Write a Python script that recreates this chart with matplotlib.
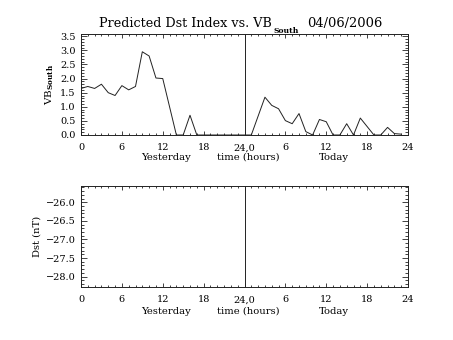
import matplotlib
matplotlib.use("Agg")
import matplotlib.pyplot as plt
from matplotlib.ticker import FixedLocator, MultipleLocator

# hourly VB south, yesterday (0-23 h) and today (0-23 h)
hours = list(range(24))
vb_yesterday = [1.65, 1.72, 1.65, 1.80, 1.50, 1.40, 1.75, 1.60, 1.72, 2.95, 2.80, 2.02,
                2.00, 1.00, 0.00, 0.00, 0.70, 0.00, 0.00, 0.00, 0.00, 0.00, 0.00, 0.00]
vb_today = [0.00, 0.00, 0.67, 1.34, 1.05, 0.93, 0.51, 0.40, 0.76, 0.12, 0.00, 0.55,
            0.47, 0.00, 0.00, 0.40, 0.00, 0.60, 0.30, 0.00, 0.00, 0.27, 0.05, 0.03]

xticks = [0, 6, 12, 18, 24, 30, 36, 42, 48]
xticklabels = ["0", "6", "12", "18", "24,0", "6", "12", "18", "24"]
vb_ticks = [0.0, 0.5, 1.0, 1.5, 2.0, 2.5, 3.0, 3.5]
dst_ticks = [-28.0, -27.5, -27.0, -26.5, -26.0]

W, H = 453, 340
FONT = "DejaVu Serif"
INK = "#222222"


def fx(x):
    return x / W


def fy(y):
    return 1 - y / H


plt.rcParams["font.family"] = FONT
plt.rcParams["mathtext.fontset"] = "dejavuserif"
fig = plt.figure(figsize=(W / 100, H / 100), dpi=100)

ax1 = fig.add_axes([fx(81), fy(135), 327 / W, 101 / H])
ax2 = fig.add_axes([fx(81), fy(287), 327 / W, 101 / H])

x_all = hours + [24 + h for h in hours]
ax1.plot(x_all, vb_yesterday + vb_today, color=INK, lw=0.7)
ax1.set_ylim(0, 3.58)
ax2.set_ylim(-28.28, -25.56)

for ax, ticks in ((ax1, vb_ticks), (ax2, dst_ticks)):
    ax.set_xlim(0, 48)
    ax.axvline(24, color=INK, lw=0.7)
    ax.xaxis.set_major_locator(FixedLocator(xticks))
    ax.set_xticklabels(xticklabels)
    ax.xaxis.set_minor_locator(MultipleLocator(1))
    ax.yaxis.set_major_locator(FixedLocator(ticks))
    ax.set_yticklabels(["%.1f" % t if t >= 0 else "\u2212%.1f" % -t for t in ticks])
    ax.yaxis.set_minor_locator(MultipleLocator(0.1))
    ax.tick_params(which="both", direction="in", top=True, right=True,
                   colors=INK, labelsize=7, labelcolor="black", width=0.6)
    ax.tick_params(axis="y", which="major", length=4, pad=4)
    ax.tick_params(axis="y", which="minor", length=2)
    ax.tick_params(axis="x", which="major", length=3, pad=6)
    ax.tick_params(axis="x", which="minor", length=1.5)
    for s in ax.spines.values():
        s.set_color(INK)
        s.set_linewidth(0.7)

# labels under each time axis
for y in (157, 311):
    fig.text(fx(166), fy(y), "Yesterday", ha="center", va="center", fontsize=7.2)
    fig.text(fx(248), fy(y), "time (hours)", ha="center", va="center", fontsize=7.2)
    fig.text(fx(334), fy(y), "Today", ha="center", va="center", fontsize=7.2)

# title with subscript
fig.text(fx(272), fy(27), "Predicted Dst Index vs. VB", ha="right", va="baseline", fontsize=9.2)
fig.text(fx(273), fy(33), "South", ha="left", va="baseline", fontsize=5.5, fontweight="bold")
fig.text(fx(307), fy(27), "04/06/2006", ha="left", va="baseline", fontsize=9.4)

ax1.set_ylabel(r"VB$_{\mathbf{South}}$", fontsize=7.5, labelpad=3)
ax2.set_ylabel("Dst (nT)", fontsize=7.2, labelpad=3)

fig.savefig("out.png", dpi=100)
